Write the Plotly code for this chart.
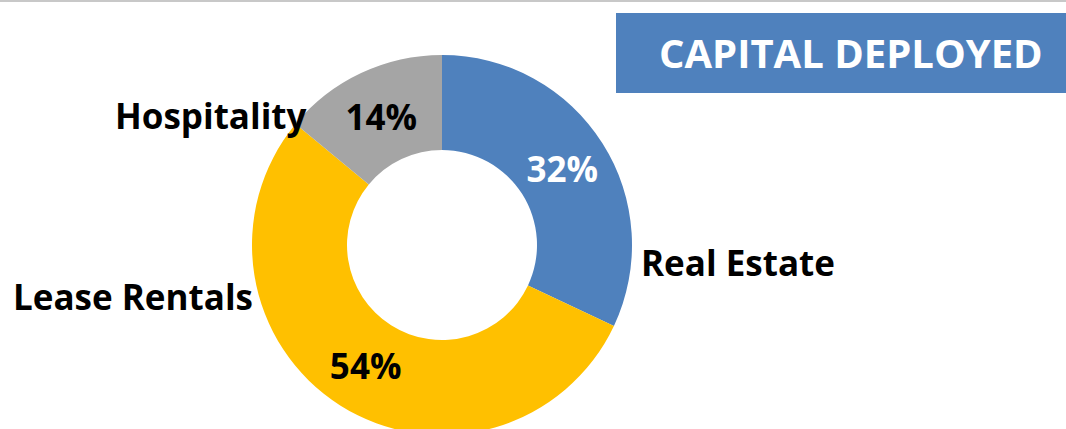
import plotly.graph_objects as go

categories = ["Real Estate", "Lease Rentals", "Hospitality"]
values = [32, 54, 14]
colors = ["#4F81BD", "#FFC000", "#A5A5A5"]
pct_colors = ["white", "black", "black"]
title_text = "CAPITAL DEPLOYED"

W, H = 1066, 441
FONT = "Open Sans"

def px(x):
    return x / W

def py(y):
    return 1 - y / H

cx, cy, r = 442, 245, 190

fig = go.Figure()
fig.add_trace(go.Pie(
    labels=categories,
    values=values,
    sort=False,
    direction="clockwise",
    rotation=0,
    hole=0.5,
    marker=dict(colors=colors, line=dict(width=0)),
    textinfo="percent",
    texttemplate="%{percent:.0%}",
    textposition="inside",
    insidetextorientation="horizontal",
    textfont=dict(family=FONT, size=35, color=pct_colors, weight="bold"),
    showlegend=False,
    hoverinfo="label+percent",
    domain=dict(x=[px(cx - r), px(cx + r)], y=[py(cy + r), py(cy - r)]),
))

label_pos = {
    "Real Estate": (639, 262, "left"),
    "Lease Rentals": (255, 296, "right"),
    "Hospitality": (309, 115, "right"),
}
for name in categories:
    x, y, anc = label_pos[name]
    fig.add_annotation(
        x=px(x), y=py(y), xref="paper", yref="paper",
        text=f"<b>{name}</b>", showarrow=False,
        xanchor=anc, yanchor="middle",
        font=dict(family=FONT, size=35, color="black"),
    )

# title box
fig.add_shape(type="rect", xref="paper", yref="paper",
              x0=px(616), x1=px(1066), y0=py(93), y1=py(13),
              fillcolor="#4F81BD", line=dict(width=0), layer="below")
fig.add_annotation(
    x=px(851), y=py(52), xref="paper", yref="paper",
    text=f"<b>{title_text}</b>", showarrow=False,
    xanchor="center", yanchor="middle",
    font=dict(family=FONT, size=40, color="white"),
)
# thin top rule
fig.add_shape(type="rect", xref="paper", yref="paper",
              x0=0, x1=1, y0=py(2), y1=1,
              fillcolor="#C8C8C8", line=dict(width=0), layer="below")

fig.update_layout(
    width=W, height=H,
    margin=dict(l=0, r=0, t=0, b=0),
    paper_bgcolor="white",
    plot_bgcolor="white",
    uniformtext=dict(mode=False),
)

fig.write_html("out.html", post_script="document.body.style.overflow='hidden';document.documentElement.style.overflow='hidden';document.body.style.margin='0';")
